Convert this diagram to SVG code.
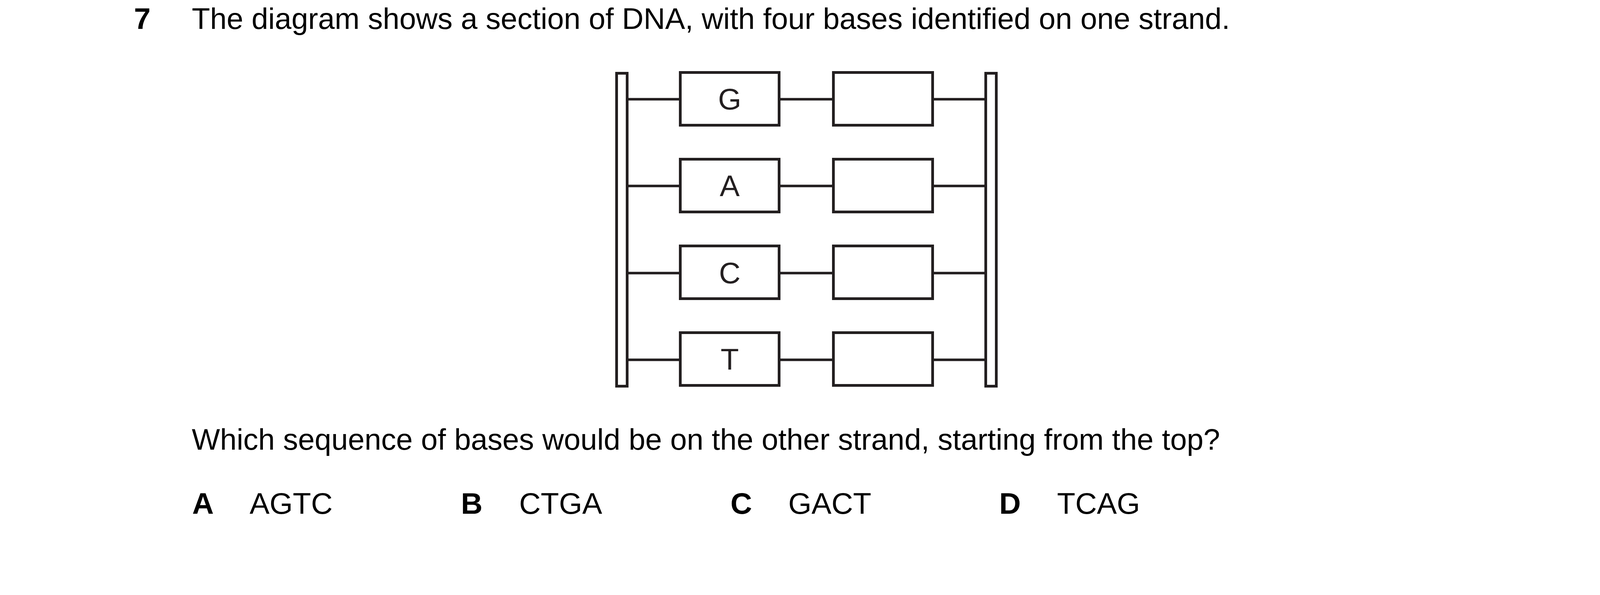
<svg xmlns="http://www.w3.org/2000/svg" width="4132" height="1523" viewBox="0 0 4132 1523">
  <style>
    .t { font-family: "Liberation Sans", Arial, sans-serif; font-size: 76.5px; fill: #000000; }
    .b { font-weight: bold; }
    .box { fill: #ffffff; stroke: #231f20; stroke-width: 7; }
    .rail { fill: #ffffff; stroke: #231f20; stroke-width: 7; }
    .bond { stroke: #231f20; stroke-width: 6.5; fill: none; }
    .lbl { font-family: "Liberation Sans", Arial, sans-serif; font-size: 76.5px; fill: #231f20; text-anchor: middle; }
  </style>
  <rect x="0" y="0" width="4132" height="1523" fill="#ffffff"/>

  <g id="question-header">
    <text class="t b" x="343" y="74">7</text>
    <text class="t" x="491" y="74">The diagram shows a section of DNA, with four bases identified on one strand.</text>
  </g>

  <g id="connectors">
    <line class="bond" x1="1609" y1="254" x2="1738" y2="254"/>
    <line class="bond" x1="1998" y1="254" x2="2130" y2="254"/>
    <line class="bond" x1="2391" y1="254" x2="2520" y2="254"/>
    <line class="bond" x1="1609" y1="476" x2="1738" y2="476"/>
    <line class="bond" x1="1998" y1="476" x2="2130" y2="476"/>
    <line class="bond" x1="2391" y1="476" x2="2520" y2="476"/>
    <line class="bond" x1="1609" y1="699" x2="1738" y2="699"/>
    <line class="bond" x1="1998" y1="699" x2="2130" y2="699"/>
    <line class="bond" x1="2391" y1="699" x2="2520" y2="699"/>
    <line class="bond" x1="1609" y1="921" x2="1738" y2="921"/>
    <line class="bond" x1="1998" y1="921" x2="2130" y2="921"/>
    <line class="bond" x1="2391" y1="921" x2="2520" y2="921"/>
  </g>

  <g id="strand-left">
    <rect class="rail" x="1578.5" y="187.5" width="27" height="801"/>
  </g>
  <g id="strand-right">
    <rect class="rail" x="2523.5" y="187.5" width="27" height="801"/>
  </g>

  <g id="base-g">
    <rect class="box" x="1741.5" y="185.5" width="253" height="135"/>
    <text class="lbl" x="1868" y="280">G</text>
  </g>
  <g id="base-a">
    <rect class="box" x="1741.5" y="407.5" width="253" height="135"/>
    <text class="lbl" x="1868" y="502">A</text>
  </g>
  <g id="base-c">
    <rect class="box" x="1741.5" y="629.5" width="253" height="135"/>
    <text class="lbl" x="1868" y="725">C</text>
  </g>
  <g id="base-t">
    <rect class="box" x="1741.5" y="851.5" width="253" height="135"/>
    <text class="lbl" x="1868" y="946">T</text>
  </g>

  <g id="pair-1"><rect class="box" x="2133.5" y="185.5" width="254" height="135"/></g>
  <g id="pair-2"><rect class="box" x="2133.5" y="407.5" width="254" height="135"/></g>
  <g id="pair-3"><rect class="box" x="2133.5" y="629.5" width="254" height="135"/></g>
  <g id="pair-4"><rect class="box" x="2133.5" y="851.5" width="254" height="135"/></g>

  <g id="question-text">
    <text class="t" x="491" y="1151">Which sequence of bases would be on the other strand, starting from the top?</text>
  </g>

  <g id="options">
    <text class="t b" x="492" y="1315">A</text>
    <text class="t" x="639" y="1315">AGTC</text>
    <text class="t b" x="1180" y="1315">B</text>
    <text class="t" x="1329" y="1315">CTGA</text>
    <text class="t b" x="1870" y="1315">C</text>
    <text class="t" x="2018" y="1315">GACT</text>
    <text class="t b" x="2558" y="1315">D</text>
    <text class="t" x="2706" y="1315">TCAG</text>
  </g>
</svg>
